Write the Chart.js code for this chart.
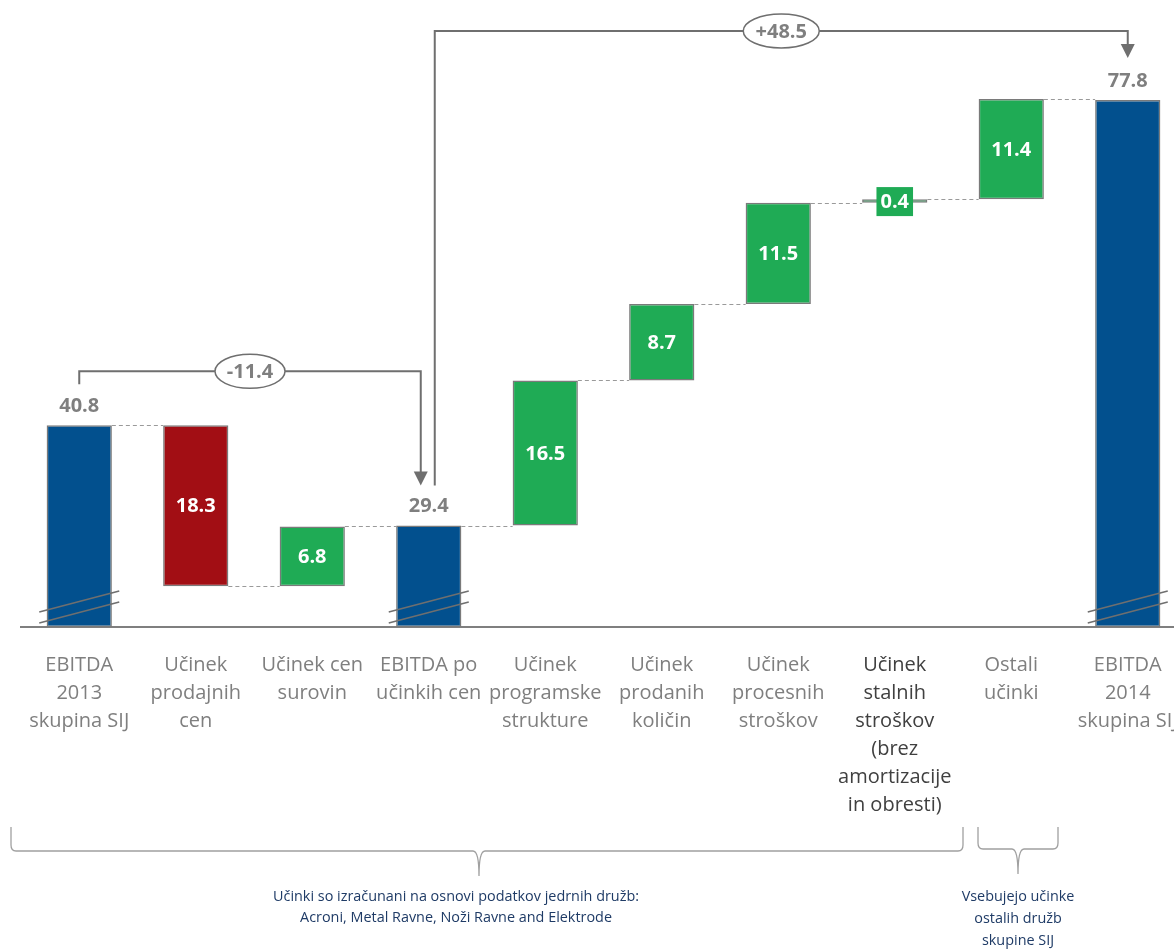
<!DOCTYPE html>
<html>
<head>
<meta charset="utf-8">
<script src="https://cdn.jsdelivr.net/npm/chart.js@4.4.1/dist/chart.umd.min.js"></script>
<style>
  html, body { margin: 0; padding: 0; background: #ffffff; overflow: hidden; }
  #wrap { position: relative; width: 1200px; height: 951px; }
</style>
</head>
<body>
<div id="wrap"><canvas id="c"></canvas></div>
<script>
// ---- data ----
const categories = [
  ['EBITDA', '2013', 'skupina SIJ'],
  ['Učinek', 'prodajnih', 'cen'],
  ['Učinek cen', 'surovin'],
  ['EBITDA po', 'učinkih cen'],
  ['Učinek', 'programske', 'strukture'],
  ['Učinek', 'prodanih', 'količin'],
  ['Učinek', 'procesnih', 'stroškov'],
  ['Učinek', 'stalnih', 'stroškov', '(brez', 'amortizacije', 'in obresti)'],
  ['Ostali', 'učinki'],
  ['EBITDA', '2014', 'skupina SIJ']
];
const values = [40.8, -18.3, 6.8, 29.4, 16.5, 8.7, 11.5, 0.4, 11.4, 77.8];
const kinds = ['total', 'delta', 'delta', 'total', 'delta', 'delta', 'delta', 'delta', 'delta', 'total'];
const bridgeLabels = ['-11.4', '+48.5'];
const bridgeFromTo = [[0, 3], [3, 9]];
const noteLeft = ['Učinki so izračunani na osnovi podatkov jedrnih družb:', 'Acroni, Metal Ravne, Noži Ravne and Elektrode'];
const noteRight = ['Vsebujejo učinke', 'ostalih družb', 'skupine SIJ'];

// axis is broken: bars of totals start at the visible axis minimum
const axisMin = 17.86, axisMax = 89.17;

// build floating ranges
const ranges = [];
const levels = [];
let running = 0;
values.forEach((v, i) => {
  if (kinds[i] === 'total') { ranges.push([axisMin, v]); running = v; }
  else { ranges.push([running, running + v]); running = running + v; }
  levels.push(running);
});

const BLUE = '#02508E', RED = '#A20E14', GREEN = '#1FAB55';
const colors = values.map((v, i) => kinds[i] === 'total' ? BLUE : (v < 0 ? RED : GREEN));
const FONT = '"Open Sans", "Liberation Sans", sans-serif';

const overlay = {
  id: 'overlay',
  afterDatasetsDraw(chart) {
    const ctx = chart.ctx;
    const meta = chart.getDatasetMeta(0);
    const ys = chart.scales.y;
    const bars = meta.data;
    ctx.save();

    // connectors
    ctx.strokeStyle = '#9a9a9a';
    ctx.lineWidth = 1;
    ctx.setLineDash([4, 3]);
    for (let i = 0; i < bars.length - 1; i++) {
      const a = bars[i], b = bars[i + 1];
      const y = Math.round(ys.getPixelForValue(levels[i])) + 0.5;
      ctx.beginPath();
      ctx.moveTo(a.x + a.width / 2, y);
      ctx.lineTo(b.x - b.width / 2, y);
      ctx.stroke();
    }
    ctx.setLineDash([]);

    // break marks on total bars
    const base = chart.chartArea.bottom;
    ctx.strokeStyle = '#6f6f6f';
    ctx.lineWidth = 1.6;
    bars.forEach((b, i) => {
      if (kinds[i] !== 'total') return;
      [[-15, -36], [-4, -25]].forEach(([y1, y2]) => {
        ctx.beginPath();
        ctx.moveTo(b.x - 40, base + y1);
        ctx.lineTo(b.x + 40, base + y2);
        ctx.stroke();
      });
    });

    // value labels
    ctx.textAlign = 'center';
    ctx.textBaseline = 'middle';
    bars.forEach((b, i) => {
      const txt = Math.abs(values[i]).toFixed(1);
      ctx.font = 'bold 20px ' + FONT;
      if (kinds[i] === 'total') {
        ctx.fillStyle = '#7f7f7f';
        ctx.fillText(txt, b.x, b.y - 19);
      } else {
        const cy = (b.y + b.base) / 2;
        const h = Math.abs(b.base - b.y);
        if (h < 26) {
          const w = ctx.measureText(txt).width + 8;
          ctx.fillStyle = colors[i];
          ctx.fillRect(b.x - w / 2, cy - 14, w, 29);
        }
        ctx.fillStyle = '#ffffff';
        ctx.fillText(txt, b.x, cy + 1);
      }
    });

    // bridge annotations
    const drawArrow = (x, tipY) => {
      ctx.fillStyle = '#6f6f6f';
      ctx.beginPath();
      ctx.moveTo(x - 7, tipY - 14);
      ctx.lineTo(x + 7, tipY - 14);
      ctx.lineTo(x, tipY);
      ctx.closePath();
      ctx.fill();
    };
    const drawOval = (cx, cy, rx, ry, txt) => {
      ctx.beginPath();
      ctx.ellipse(cx, cy, rx, ry, 0, 0, Math.PI * 2);
      ctx.fillStyle = '#ffffff';
      ctx.fill();
      ctx.strokeStyle = '#6f6f6f';
      ctx.lineWidth = 1.5;
      ctx.stroke();
      ctx.fillStyle = '#7f7f7f';
      ctx.font = 'bold 20px ' + FONT;
      ctx.fillText(txt, cx, cy + 1);
    };
    ctx.strokeStyle = '#6f6f6f';
    ctx.lineWidth = 2;
    // first bridge
    {
      const a = bars[bridgeFromTo[0][0]], b = bars[bridgeFromTo[0][1]];
      const x1 = a.x, x2 = b.x - 8;
      const yTop = a.y - 54;
      const tip = b.y - 40;
      ctx.beginPath();
      ctx.moveTo(x1, a.y - 41);
      ctx.lineTo(x1, yTop);
      ctx.lineTo(x2, yTop);
      ctx.lineTo(x2, tip - 12);
      ctx.stroke();
      drawArrow(x2, tip);
      drawOval((x1 + x2) / 2, yTop, 35, 17, bridgeLabels[0]);
    }
    // second bridge
    {
      const a = bars[bridgeFromTo[1][0]], b = bars[bridgeFromTo[1][1]];
      const x1 = a.x + 6, x2 = b.x;
      const yTop = 31;
      const tip = b.y - 42;
      ctx.strokeStyle = '#6f6f6f';
      ctx.lineWidth = 2;
      ctx.beginPath();
      ctx.moveTo(x1, a.y - 40);
      ctx.lineTo(x1, yTop);
      ctx.lineTo(x2, yTop);
      ctx.lineTo(x2, tip - 12);
      ctx.stroke();
      drawArrow(x2, tip);
      drawOval((x1 + x2) / 2, yTop, 38, 17, bridgeLabels[1]);
    }

    // braces
    const brace = (xl, xr, xc, yEnd, yH, yTip) => {
      ctx.strokeStyle = '#a0a0a0';
      ctx.lineWidth = 1.3;
      ctx.beginPath();
      ctx.moveTo(xl, yEnd);
      ctx.lineTo(xl, yH - 6);
      ctx.quadraticCurveTo(xl, yH, xl + 5, yH);
      ctx.lineTo(xc - 6, yH);
      ctx.quadraticCurveTo(xc, yH, xc, yTip);
      ctx.quadraticCurveTo(xc, yH, xc + 6, yH);
      ctx.lineTo(xr - 5, yH);
      ctx.quadraticCurveTo(xr, yH, xr, yH - 6);
      ctx.lineTo(xr, yEnd);
      ctx.stroke();
    };
    brace(11, 963, 479, 827, 851, 876);
    brace(978, 1058, 1018, 827, 849, 874);

    // notes
    ctx.fillStyle = '#1F3B66';
    ctx.font = '14.4px ' + FONT;
    noteLeft.forEach((t, k) => ctx.fillText(t, 456, 897 + k * 21));
    noteRight.forEach((t, k) => ctx.fillText(t, 1018, 897 + k * 22));

    ctx.restore();
  }
};

new Chart(document.getElementById('c'), {
  type: 'bar',
  data: {
    labels: categories,
    datasets: [{
      data: ranges,
      backgroundColor: colors,
      borderColor: '#7a7a7a',
      borderWidth: 1.5,
      borderSkipped: false,
      categoryPercentage: 1,
      barPercentage: 0.56
    }]
  },
  options: {
    responsive: true,
    maintainAspectRatio: false,
    animation: false,
    layout: { padding: { left: 21, right: 14, top: 0, bottom: 0 } },
    plugins: { legend: { display: false }, tooltip: { enabled: false } },
    scales: {
      x: {
        grid: { display: false },
        border: { display: true, color: '#7f7f7f', width: 2 },
        ticks: {
          autoSkip: false,
          maxRotation: 0,
          padding: 16,
          font: { family: FONT, size: 20, lineHeight: 1.4 },
          color: (c) => c.index === 7 ? '#404040' : '#7f7f7f'
        },
        afterFit: (s) => { s.height = 324; }
      },
      y: {
        display: false,
        min: axisMin,
        max: axisMax
      }
    }
  },
  plugins: [overlay]
});
</script>
</body>
</html>
